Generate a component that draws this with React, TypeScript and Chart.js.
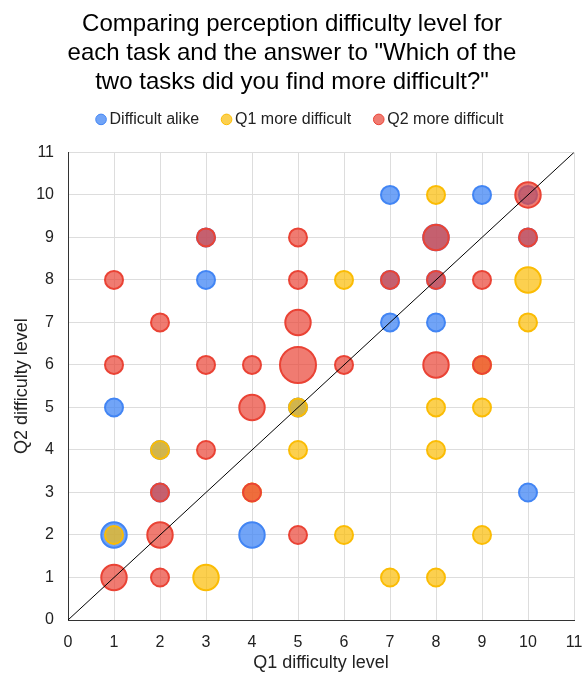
import React, { useEffect, useRef } from "react";
import { Chart, registerables } from "chart.js";

Chart.register(...registerables);

// [Q1 level, Q2 level, number of answers]
const difficultAlike: [number, number, number][] = [
  [1, 5, 1], [1, 2, 2], [2, 4, 1], [2, 3, 1], [3, 8, 1], [3, 9, 1],
  [4, 2, 2], [5, 5, 1], [7, 10, 1], [7, 8, 1], [7, 7, 1], [8, 9, 2],
  [8, 8, 1], [8, 7, 1], [9, 10, 1], [10, 10, 1], [10, 9, 1], [10, 3, 1],
];
const q1MoreDifficult: [number, number, number][] = [
  [1, 2, 1], [2, 4, 1], [3, 1, 2], [4, 3, 1], [5, 5, 1], [5, 4, 1],
  [6, 8, 1], [6, 2, 1], [7, 1, 1], [8, 10, 1], [8, 5, 1], [8, 4, 1],
  [8, 1, 1], [9, 6, 1], [9, 5, 1], [9, 2, 1], [10, 8, 2], [10, 7, 1],
];
const q2MoreDifficult: [number, number, number][] = [
  [1, 8, 1], [1, 6, 1], [1, 1, 2], [2, 7, 1], [2, 3, 1], [2, 2, 2],
  [2, 1, 1], [3, 9, 1], [3, 6, 1], [3, 4, 1], [4, 6, 1], [4, 5, 2],
  [4, 3, 1], [5, 9, 1], [5, 8, 1], [5, 7, 2], [5, 6, 4], [5, 2, 1],
  [6, 6, 1], [7, 8, 1], [8, 9, 2], [8, 8, 1], [8, 6, 2], [9, 8, 1],
  [9, 6, 1], [10, 10, 2], [10, 9, 1],
];
const seriesNames = ["Difficult alike", "Q1 more difficult", "Q2 more difficult"];
const diagonal: [number, number][] = [[0, 0], [11, 11]];
const axisTicks = [0, 1, 2, 3, 4, 5, 6, 7, 8, 9, 10, 11];
const titleLines = [
  "Comparing perception difficulty level for",
  'each task and the answer to "Which of the',
  'two tasks did you find more difficult?"',
];

const BASE_R = 9;
const toBubbles = (arr: [number, number, number][]) =>
  arr.map(([x, y, n]) => ({ x, y, r: BASE_R * Math.sqrt(n) }));

export default function App() {
  const ref = useRef<HTMLCanvasElement | null>(null);
  useEffect(() => {
    document.body.style.margin = "0";
    const font = "'Liberation Sans', Arial, sans-serif";
    const legendSpace = {
      id: "legendSpace",
      beforeInit(chart: any) {
        const orig = chart.legend.fit;
        chart.legend.fit = function () {
          orig.bind(this)();
          this.height = 68;
        };
      },
      afterLayout(chart: any) {
        chart.legend.left += 10;
        chart.legend.right += 10;
      },
    };
    const chart = new Chart(ref.current!, {
      type: "bubble",
      data: {
        datasets: [
          {
            label: seriesNames[0],
            data: toBubbles(difficultAlike),
            backgroundColor: "rgba(66,133,244,0.75)",
            borderColor: "#4285F4",
            borderWidth: 2,
            order: 3,
          },
          {
            label: seriesNames[1],
            data: toBubbles(q1MoreDifficult),
            backgroundColor: "rgba(251,188,4,0.7)",
            borderColor: "#FBBC04",
            borderWidth: 2,
            order: 2,
          },
          {
            label: seriesNames[2],
            data: toBubbles(q2MoreDifficult),
            backgroundColor: "rgba(234,67,53,0.7)",
            borderColor: "#EA4335",
            borderWidth: 2,
            order: 1,
          },
          {
            type: "line",
            label: "diag",
            data: diagonal.map(([x, y]) => ({ x, y })),
            borderColor: "#000000",
            borderWidth: 1,
            pointRadius: 0,
            fill: false,
            order: 0,
          } as any,
        ],
      },
      plugins: [legendSpace],
      options: {
        animation: false,
        responsive: false,
        layout: { autoPadding: false, padding: { left: 0, right: 0, top: 0, bottom: 0 } },
        plugins: {
          title: {
            display: true,
            text: titleLines,
            color: "#000000",
            font: { family: font, size: 24, weight: "normal", lineHeight: 1.2 },
            padding: { top: 10, bottom: -12 },
          },
          legend: {
            display: true,
            labels: {
              usePointStyle: true,
              pointStyle: "circle",
              boxWidth: 1,
              boxHeight: 7.5,
              color: "#222222",
              font: { family: font, size: 16 },
              padding: 27,
              generateLabels: (ch: any) =>
                ch.data.datasets.slice(0, 3).map((ds: any, i: number) => ({
                  text: ds.label,
                  fillStyle: ds.backgroundColor,
                  strokeStyle: ds.borderColor,
                  lineWidth: 1,
                  pointStyle: "circle",
                  datasetIndex: i,
                  hidden: false,
                  fontColor: "#222222",
                })),
            },
          },
          tooltip: { enabled: false },
        },
        scales: {
          x: {
            type: "linear",
            min: 0,
            max: 11,
            afterBuildTicks: (s: any) => {
              s.ticks = axisTicks.map((v) => ({ value: v }));
            },
            afterFit: (s: any) => {
              s.height = 55;
              s.paddingRight = 10;
              s.paddingLeft = 0;
            },
            ticks: { color: "#222222", font: { family: font, size: 16 }, padding: 13 },
            grid: { color: "#dddddd", drawTicks: false },
            border: { color: "#333333", width: 1 },
            title: {
              display: true,
              text: "Q1 difficulty level",
              color: "#222222",
              font: { family: font, size: 18 },
              padding: { top: 1, bottom: 1 },
            },
          },
          y: {
            type: "linear",
            min: 0,
            max: 11,
            afterBuildTicks: (s: any) => {
              s.ticks = axisTicks.map((v) => ({ value: v }));
            },
            afterFit: (s: any) => {
              s.width = 68;
            },
            ticks: { color: "#222222", font: { family: font, size: 16 }, padding: 14 },
            grid: { color: "#dddddd", drawTicks: false },
            border: { color: "#333333", width: 1 },
            title: {
              display: true,
              text: "Q2 difficulty level",
              color: "#222222",
              font: { family: font, size: 18 },
              padding: { top: 11, bottom: 11 },
            },
          },
        },
      } as any,
    });
    return () => chart.destroy();
  }, []);
  return <canvas ref={ref} width={584} height={675} style={{ display: "block" }} />;
}
